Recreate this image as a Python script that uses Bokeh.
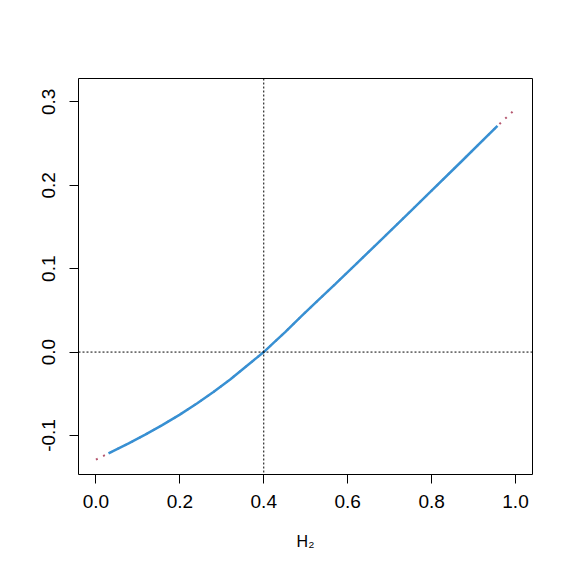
from bokeh.plotting import figure
from bokeh.models import Range1d, FixedTicker, Span
from bokeh.embed import file_html
from bokeh.resources import INLINE

# Data
h2 = [0.0, 0.030, 0.078, 0.1175, 0.157, 0.199, 0.2407, 0.280, 0.320, 0.360,
      0.400, 0.4233, 0.451, 0.4886, 0.5305, 0.5703, 0.618, 0.6816, 0.749, 0.797,
      0.868, 0.957, 1.0]
est = [-0.129, -0.1215, -0.1095, -0.0990, -0.0879, -0.0753, -0.0617, -0.0480, -0.0328, -0.0164,
       0.000, 0.011, 0.024, 0.0425, 0.0625, 0.0815, 0.1045, 0.1355, 0.1685, 0.192,
       0.227, 0.2712, 0.2915]
blue_start, blue_end = 1, 21  # indices of the observed (blue) segment

x_ticks = [0.0, 0.2, 0.4, 0.6, 0.8, 1.0]
x_labels = ["0.0", "0.2", "0.4", "0.6", "0.8", "1.0"]
y_ticks = [-0.1, 0.0, 0.1, 0.2, 0.3]
y_labels = ["-0.1", "0.0", "0.1", "0.2", "0.3"]
ref_x = 0.4
ref_y = 0.0

FONT = "Liberation Sans"

p = figure(width=565, height=564, output_backend="svg", toolbar_location=None,
           x_range=Range1d(-0.0415, 1.0405), y_range=Range1d(-0.1468, 0.328),
           min_border_left=78, min_border_right=33, min_border_top=78, min_border_bottom=90)
p.background_fill_color = "white"
p.border_fill_color = "white"
p.outline_line_color = "black"
p.outline_line_width = 1
p.grid.visible = False

for ax in (p.xaxis[0], p.yaxis[0]):
    ax.axis_line_color = None
    ax.major_tick_in = 0
    ax.major_tick_out = 9
    ax.minor_tick_line_color = None
    ax.major_tick_line_color = "black"
    ax.major_label_text_font = FONT
    ax.major_label_text_font_size = "19px"
    ax.major_label_text_color = "black"

p.xaxis.ticker = FixedTicker(ticks=x_ticks)
p.xaxis.major_label_overrides = {t: l for t, l in zip(x_ticks, x_labels)}
p.xaxis.major_label_standoff = 11
p.xaxis.axis_label = "H₂"
p.xaxis.axis_label_text_font = FONT
p.xaxis.axis_label_text_font_style = "normal"
p.xaxis.axis_label_text_font_size = "16px"
p.xaxis.axis_label_text_color = "black"
p.xaxis.axis_label_standoff = 22

p.yaxis.ticker = FixedTicker(ticks=y_ticks)
p.yaxis.major_label_overrides = {t: l for t, l in zip(y_ticks, y_labels)}
p.yaxis.major_label_orientation = "vertical"
p.yaxis.major_label_standoff = 14

p.add_layout(Span(location=ref_x, dimension="height", line_color="black",
                  line_width=1, line_dash="2 2"))
p.add_layout(Span(location=ref_y, dimension="width", line_color="black",
                  line_width=1, line_dash="2 2"))

p.line(h2, est, line_color="#b5576f", line_width=2, line_dash="2 6")
p.line(h2[blue_start:blue_end + 1], est[blue_start:blue_end + 1],
       line_color="#3790d3", line_width=2.5)

open("out.html", "w").write(file_html(p, INLINE))
